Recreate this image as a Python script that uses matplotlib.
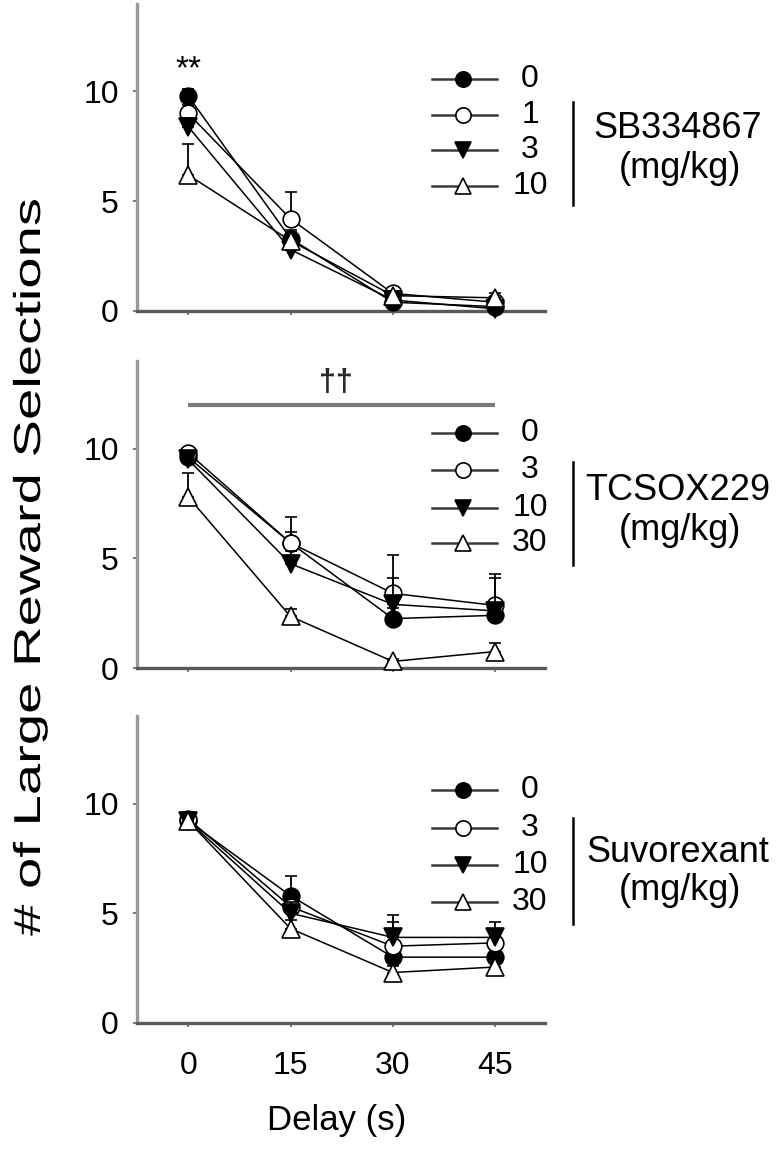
import matplotlib
matplotlib.use("Agg")
import matplotlib.pyplot as plt
import numpy as np
from matplotlib.lines import Line2D
from matplotlib.patheffects import AbstractPathEffect
from matplotlib.transforms import Affine2D

plt.rcParams['font.family'] = ['Liberation Sans', 'DejaVu Sans']

# ---------------- data ----------------
delays = [0, 15, 30, 45]

sb_drug = "SB334867"
sb_doses = ["0", "1", "3", "10"]
sb_mean_0 = [9.8, 3.3, 0.4, 0.2]
sb_mean_1 = [9.0, 4.2, 0.8, 0.4]
sb_mean_3 = [8.4, 2.8, 0.5, 0.1]
sb_mean_10 = [6.2, 3.2, 0.7, 0.6]
sb_sem_0 = [0.3, 0.4, 0.2, 0.1]
sb_sem_1 = [0.4, 1.2, 0.2, 0.2]
sb_sem_3 = [0.4, 0.3, 0.2, 0.1]
sb_sem_10 = [1.4, 0.4, 0.2, 0.2]

tc_drug = "TCSOX229"
tc_doses = ["0", "3", "10", "30"]
tc_mean_0 = [9.6, 5.7, 2.25, 2.4]
tc_mean_3 = [9.8, 5.7, 3.4, 2.85]
tc_mean_10 = [9.5, 4.75, 2.9, 2.6]
tc_mean_30 = [7.8, 2.35, 0.3, 0.75]
tc_sem_0 = [0.3, 0.5, 0.5, 0.4]
tc_sem_3 = [0.2, 1.2, 1.75, 1.45]
tc_sem_10 = [0.3, 0.6, 1.2, 1.5]
tc_sem_30 = [1.1, 0.35, 0.1, 0.4]

su_drug = "Suvorexant"
su_doses = ["0", "3", "10", "30"]
su_mean_0 = [9.2, 5.8, 3.0, 3.0]
su_mean_3 = [9.3, 5.3, 3.5, 3.65]
su_mean_10 = [9.2, 5.0, 3.9, 3.9]
su_mean_30 = [9.2, 4.3, 2.3, 2.55]
su_sem_0 = [0.2, 0.9, 0.5, 0.4]
su_sem_3 = [0.2, 0.6, 1.1, 0.5]
su_sem_10 = [0.2, 0.5, 1.0, 0.7]
su_sem_30 = [0.2, 0.4, 0.3, 0.3]

yticks = [0, 5, 10]
unit_label = "(mg/kg)"
ylabel = "# of Large Reward Selections"
xlabel = "Delay (s)"
sig_sb = "**"
sig_tc = "\u2020\u2020"
sig_tc_line = [0, 45]
sig_tc_line_y = 12

# ---------------- layout ----------------
W, H = 780, 1151
fig = plt.figure(figsize=(W / 100, H / 100), dpi=100)

def fx(x):
    return x / W

def fy(y):
    return 1 - y / H

YMAX = 14.0
PX_PER_UNIT = 21.95
ax_h = YMAX * PX_PER_UNIT
left_px, right_px = 137, 545
bottoms = [311, 668, 1023]

styles = [
    dict(marker='o', mfc='black', mec='black'),
    dict(marker='o', mfc='white', mec='black'),
    dict(marker='v', mfc='black', mec='black'),
    dict(marker='^', mfc='white', mec='black'),
]

panels = [
    (sb_drug, sb_doses, [sb_mean_0, sb_mean_1, sb_mean_3, sb_mean_10],
     [sb_sem_0, sb_sem_1, sb_sem_3, sb_sem_10]),
    (tc_drug, tc_doses, [tc_mean_0, tc_mean_3, tc_mean_10, tc_mean_30],
     [tc_sem_0, tc_sem_3, tc_sem_10, tc_sem_30]),
    (su_drug, su_doses, [su_mean_0, su_mean_3, su_mean_10, su_mean_30],
     [su_sem_0, su_sem_3, su_sem_10, su_sem_30]),
]

legend_rows = [[79, 115, 150, 186], [433, 470, 508, 543], [790, 828, 865, 902]]
legend_bar = [[102, 205], [462, 565], [818, 924]]
legend_text_y = [[129, 168], [490, 530], [852, 890]]

axes = []
for i, (drug, doses, means, sems) in enumerate(panels):
    b = bottoms[i]
    ax = fig.add_axes([fx(left_px), fy(b), (right_px - left_px) / W, ax_h / H])
    axes.append(ax)
    for j in range(4):
        st = styles[j]
        ax.errorbar(delays, means[j], yerr=[np.zeros(len(sems[j])), sems[j]],
                    color='black', lw=1.1, ms=12 if st['marker'] == 'o' else 13,
                    mew=1.2, capsize=4.5, capthick=1.6, elinewidth=1.3,
                    zorder=3 + j, clip_on=False, **st)
    ax.set_xlim(-7.5, 52.3)
    ax.set_ylim(0, YMAX)
    ax.set_yticks(yticks)
    ax.set_xticks(delays)
    for s in ['top', 'right']:
        ax.spines[s].set_visible(False)
    ax.spines['left'].set_color('#9a9a9a')
    ax.spines['left'].set_linewidth(2.4)
    ax.spines['bottom'].set_color('#5a5a5a')
    ax.spines['bottom'].set_linewidth(2.4)
    ax.tick_params(axis='y', length=3, width=1.2, color='#666666', labelsize=23, pad=10)
    ax.tick_params(axis='x', length=3, width=1.2, color='#666666', labelsize=23, pad=17)
    if i < 2:
        ax.tick_params(axis='x', labelbottom=False)

    # legend (drawn manually in figure pixel positions)
    for j in range(4):
        yy = fy(legend_rows[i][j])
        fig.add_artist(Line2D([fx(432), fx(497)], [yy, yy], color='#3a3a3a', lw=1.8,
                              transform=fig.transFigure))
        st = styles[j]
        fig.add_artist(Line2D([fx(463)], [yy], ls='none', marker=st['marker'],
                              mfc=st['mfc'], mec=st['mec'], mew=1.2,
                              ms=11 if st['marker'] == 'o' else 12,
                              transform=fig.transFigure))
        fig.text(fx(530), yy, doses[j], fontsize=23, ha='center', va='center')
    fig.add_artist(Line2D([fx(573), fx(573)], [fy(legend_bar[i][0]), fy(legend_bar[i][1])],
                          color='black', lw=1.8, transform=fig.transFigure))
    fig.text(fx(678), fy(legend_text_y[i][0]), drug, fontsize=26, ha='center', va='center')
    fig.text(fx(680), fy(legend_text_y[i][1]), unit_label, fontsize=26, ha='center', va='center')

# significance marks
axes[0].text(delays[0], 11.0, sig_sb, fontsize=24, ha='center', va='center')
axes[1].plot(sig_tc_line, [sig_tc_line_y, sig_tc_line_y], color='#7a7a7a', lw=3,
             solid_capstyle='butt')
axes[1].text(np.mean(sig_tc_line) - 0.8, 13.0, sig_tc, fontsize=22, fontweight='bold',
             ha='center', va='center', color='#2a2a2a')

# x label
fig.text(fx(337), fy(1130), xlabel, fontsize=25, ha='center', va='baseline')


# y label, stretched along its length to match the reference
class Stretch(AbstractPathEffect):
    def __init__(self, cx, cy, sx, sy):
        super().__init__()
        self.cx, self.cy, self.sx, self.sy = cx, cy, sx, sy

    def draw_path(self, renderer, gc, tpath, affine, rgbFace=None):
        a = affine + Affine2D().translate(-self.cx, -self.cy).scale(self.sx, self.sy).translate(self.cx, self.cy)
        renderer.draw_path(gc, tpath, a, rgbFace)


ycx, ycy = 30, 567
fig.text(fx(ycx), fy(ycy), ylabel, fontsize=27, rotation=90, ha='center', va='center',
         path_effects=[Stretch(ycx, H - ycy, 1.0, 1.5)])

fig.savefig("out.png", dpi=100)
